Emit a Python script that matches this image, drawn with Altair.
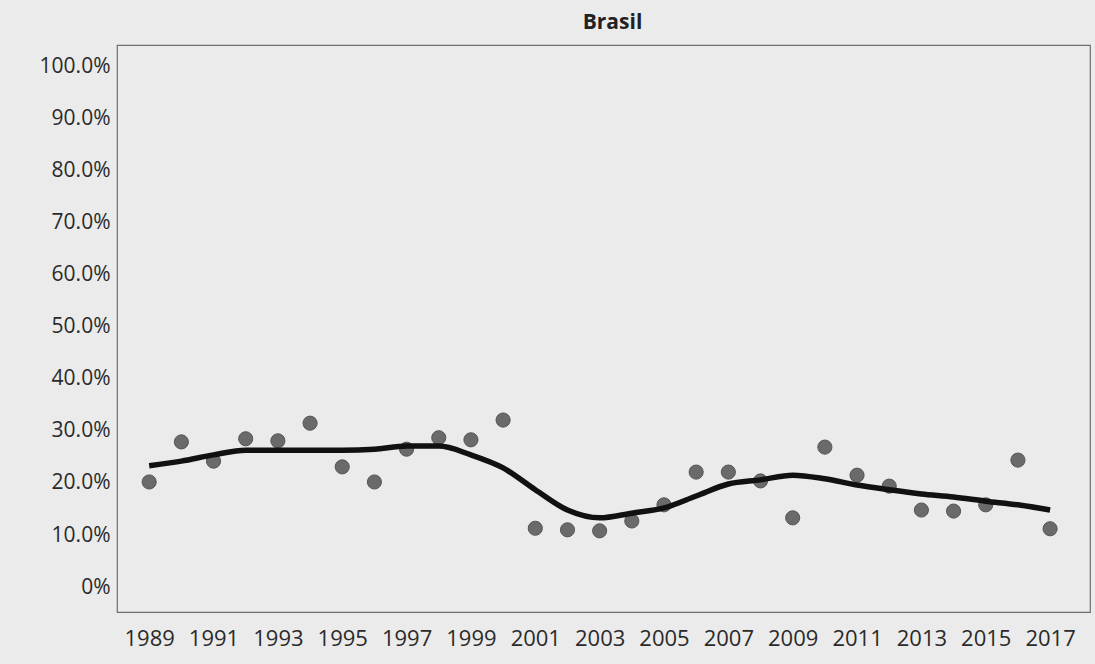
import altair as alt
import pandas as pd

# Annual values (share) for Brasil and the smoothed trend line
years = list(range(1989, 2018))
values = [0.202, 0.279, 0.242, 0.285, 0.281, 0.315, 0.231, 0.202, 0.265, 0.287,
          0.283, 0.321, 0.113, 0.110, 0.108, 0.127, 0.158, 0.221, 0.221, 0.204,
          0.133, 0.269, 0.215, 0.194, 0.148, 0.146, 0.158, 0.244, 0.112]
trend = [0.233, 0.242, 0.254, 0.263, 0.263, 0.263, 0.263, 0.265, 0.271, 0.271,
         0.254, 0.229, 0.187, 0.148, 0.133, 0.142, 0.152, 0.175, 0.198, 0.206,
         0.215, 0.208, 0.196, 0.187, 0.179, 0.173, 0.165, 0.158, 0.148]
x_ticks = list(range(1989, 2018, 2))
y_ticks = [i / 10 for i in range(11)]

df = pd.DataFrame({"ano": years, "valor": values, "tendencia": trend})

x_enc = alt.X(
    "ano:Q",
    scale=alt.Scale(domain=[1988, 2018.24], nice=False, zero=False),
    axis=alt.Axis(values=x_ticks, format="d", title=None, grid=False, ticks=False,
                  domain=False, labelPadding=16, labelFontSize=22,
                  labelColor="#2a2a2a", labelFont="Open Sans"),
)
y_scale = alt.Scale(domain=[-0.048, 1.042], nice=False, zero=False)
y_axis = alt.Axis(values=y_ticks, title=None, grid=False, ticks=False, domain=False,
                  labelExpr="datum.value == 0 ? '0%' : format(datum.value, '.1%')",
                  labelPadding=7, labelFontSize=21, labelColor="#2a2a2a",
                  labelFont="Open Sans")

points = alt.Chart(df).mark_circle(size=200, color="#6a6a6a", opacity=1,
                                   stroke="#555555", strokeWidth=1).encode(
    x=x_enc,
    y=alt.Y("valor:Q", scale=y_scale, axis=y_axis),
)

line = alt.Chart(df).mark_line(color="#111111", strokeWidth=5.5,
                               interpolate="monotone").encode(
    x=x_enc,
    y=alt.Y("tendencia:Q", scale=y_scale, axis=y_axis),
)

chart = (
    alt.layer(points, line)
    .properties(
        width=973,
        height=567,
        title=alt.TitleParams("Brasil", fontSize=21, fontWeight="bold",
                              font="Open Sans", color="#222222", offset=12, dx=9),
        background="#ebebeb",
        padding={"left": 117, "top": 45, "right": 5, "bottom": 52},
        autosize=alt.AutoSizeParams(type="none"),
    )
    .configure_view(stroke="#6f6f6f", strokeWidth=1.2, fill="#ebebeb")
)

chart.save("out.html", embed_options={"renderer": "svg", "actions": False})
